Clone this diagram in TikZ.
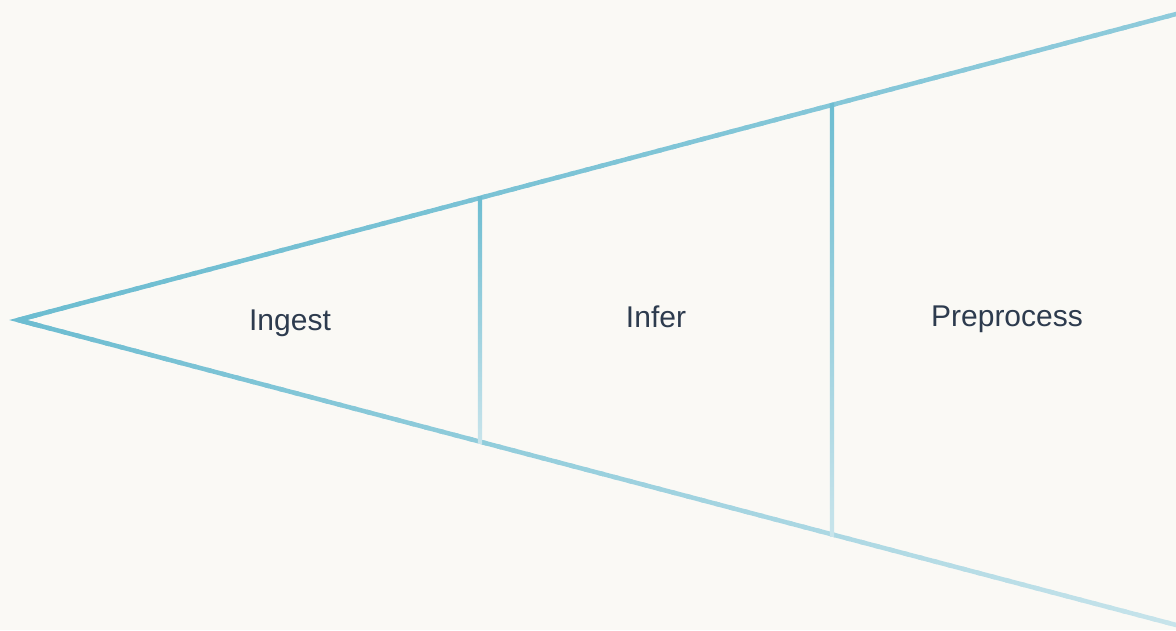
\documentclass[tikz,border=0pt]{standalone}
\usepackage{fontspec}
\setmainfont{Liberation Sans}
\usetikzlibrary{calc}
\definecolor{bg}{HTML}{FAF9F5}
\definecolor{ink}{HTML}{2D3B4E}
\definecolor{lnA}{HTML}{6DBDD1}
\definecolor{lnB}{HTML}{8FCBDB}
\definecolor{lnC}{HTML}{C8E4EB}
\begin{document}
\begin{tikzpicture}[x=1pt,y=-1pt,
  lbl/.style={anchor=base,text=ink,inner sep=0pt,font=\fontsize{30}{36}\selectfont},
  divider/.style={top color=lnA,bottom color=lnC,draw=none}]
\fill[bg] (0,0) rectangle (1176,630);
\useasboundingbox (0,0) rectangle (1176,630);
\coordinate (apex) at (18,320);
\coordinate (tr) at (1180,13);
\coordinate (br) at (1180,626);
% apex tip
\draw[line width=4.5pt,lnA,line join=miter,miter limit=20] ($(apex)!0.02!(tr)$) -- (apex) -- ($(apex)!0.02!(br)$);
% upper edge
\foreach \i in {0,...,79}{
  \pgfmathsetmacro\a{\i/80}
  \pgfmathsetmacro\b{(\i+1.3)/80}
  \pgfmathsetmacro\p{100*\a}
  \draw[line width=4.5pt,color=lnB!\p!lnA] ($(apex)!\a!(tr)$) -- ($(apex)!\b!(tr)$);
}
% lower edge
\foreach \i in {0,...,79}{
  \pgfmathsetmacro\a{\i/80}
  \pgfmathsetmacro\b{(\i+1.3)/80}
  \pgfmathsetmacro\p{100*\a}
  \draw[line width=4.5pt,color=lnC!\p!lnA] ($(apex)!\a!(br)$) -- ($(apex)!\b!(br)$);
}
% dividers
\coordinate (d1t) at (477.8,196);
\coordinate (d1b) at (482.2,443);
\coordinate (d2t) at (829.8,103);
\coordinate (d2b) at (834.2,536);
\shade[divider] (d1t) rectangle (d1b);
\shade[divider] (d2t) rectangle (d2b);
% labels
\node[lbl] (ingest) at (290,330) {Ingest};
\node[lbl] (infer) at (656,327) {Infer};
\node[lbl] (prep) at (1007,326) {Preprocess};
\end{tikzpicture}
\end{document}
